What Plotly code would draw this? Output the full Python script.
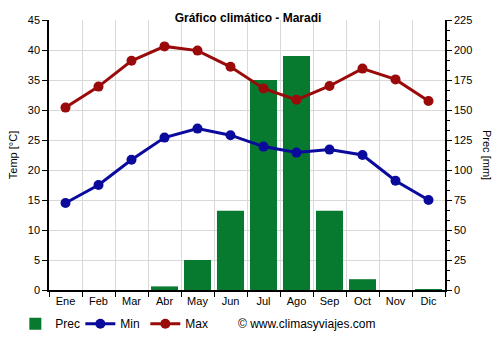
import plotly.graph_objects as go

months = ["Ene", "Feb", "Mar", "Abr", "May", "Jun", "Jul", "Ago", "Sep", "Oct", "Nov", "Dic"]
prec = [0, 0, 0, 3, 25, 66, 175, 195, 66, 9, 0, 0.5]
tmin = [14.5, 17.5, 21.7, 25.4, 26.9, 25.8, 23.9, 22.9, 23.4, 22.5, 18.2, 15.0]
tmax = [30.4, 33.9, 38.2, 40.6, 39.9, 37.2, 33.6, 31.7, 34.0, 36.9, 35.1, 31.5]
left_ticks = [0, 5, 10, 15, 20, 25, 30, 35, 40, 45]
right_ticks = [0, 25, 50, 75, 100, 125, 150, 175, 200, 225]

GREEN = "#077a30"
BLUE = "#0a0a9c"
RED = "#9b0a0a"
x = list(range(len(months)))

fig = go.Figure()
fig.add_trace(go.Bar(x=x, y=prec, name="Prec", marker=dict(color=GREEN, line=dict(width=0)),
                     width=0.82, yaxis="y"))
fig.add_trace(go.Scatter(x=x, y=tmin, name="Min", mode="lines+markers", yaxis="y2",
                         line=dict(color=BLUE, width=3), marker=dict(size=10, color=BLUE)))
fig.add_trace(go.Scatter(x=x, y=tmax, name="Max", mode="lines+markers", yaxis="y2",
                         line=dict(color=RED, width=3), marker=dict(size=10, color=RED)))

font = dict(family="Liberation Sans, Arial, sans-serif", size=11, color="#000")
bounds = [i - 0.5 for i in range(len(months) + 1)]

fig.update_layout(
    width=500, height=350,
    margin=dict(l=49, r=55, t=20, b=57),
    paper_bgcolor="white", plot_bgcolor="white",
    font=font,
    showlegend=True,
    barmode="overlay",
    title=dict(text="<b>Gráfico climático - Maradi</b>", x=0.496, xanchor="center",
               y=1 - 18 / 350, yanchor="middle", font=dict(size=12, family=font["family"])),
    xaxis=dict(range=[-0.5, 11.5], tickmode="array", tickvals=x, ticktext=months,
               showgrid=False, ticks="", showline=True, linecolor="#000", linewidth=1.5,
               zeroline=False, fixedrange=True,
               minor=dict(tickmode="array", tickvals=bounds, ticks="outside", ticklen=5,
                          tickcolor="#000", showgrid=True, gridcolor="#d9d9d9", gridwidth=1)),
    # precipitation axis (right side, drawn first so bars stay under the lines)
    yaxis=dict(range=[0, 225], tickmode="array", tickvals=right_ticks, side="right",
               showgrid=True, gridcolor="#d9d9d9", gridwidth=1,
               ticks="outside", ticklen=5, tickcolor="#000",
               showline=True, linecolor="#000", linewidth=1.5, zeroline=False,
               minor=dict(dtick=25 / 3, tick0=0, ticks="outside", ticklen=3, tickcolor="#000")),
    # temperature axis (left side)
    yaxis2=dict(range=[0, 45], tickmode="array", tickvals=left_ticks, overlaying="y", side="left",
                showgrid=False, ticks="outside", ticklen=5, tickcolor="#000",
                showline=True, linecolor="#000", linewidth=1.5, zeroline=False,
                title=dict(text="Temp [°C]", standoff=8, font=dict(size=11))),
    legend=dict(orientation="h", x=-0.085, xanchor="left", y=-0.125, yanchor="middle",
                font=dict(size=12), entrywidth=20, entrywidthmode="pixels",
                itemwidth=30, tracegroupgap=0, bgcolor="rgba(0,0,0,0)"),
    annotations=[
        dict(text="Prec [mm]", textangle=90, xref="paper", yref="paper", x=1 + 42 / 396,
             y=0.5, xanchor="center", yanchor="middle", showarrow=False, font=dict(size=11)),
        dict(text="© www.climasyviajes.com", xref="paper", yref="paper", x=(236 - 49) / 396,
             y=-0.125, xanchor="left", yanchor="middle", showarrow=False, font=dict(size=12)),
    ],
)

fig.write_html("out.html")
